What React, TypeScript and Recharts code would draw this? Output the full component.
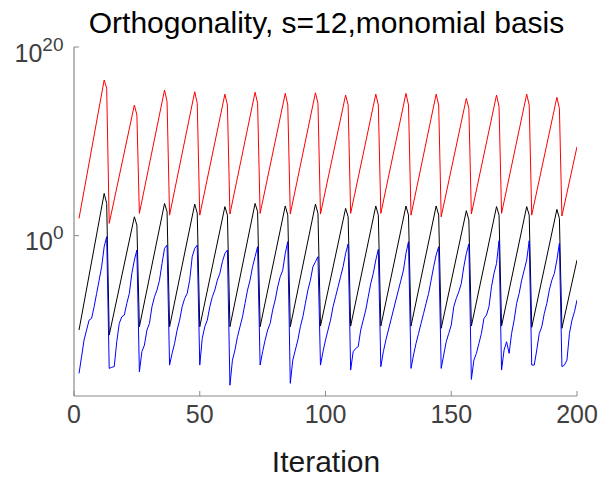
import React from 'react';
import { LineChart, Line, XAxis, YAxis } from 'recharts';

const W = 600;
const H = 477;
const PLOT = { left: 74, top: 47, right: 577, bottom: 396 };

const iterationTicks = [0, 50, 100, 150, 200];
const yTicks = [1, 1e20];
const yDomain: [number, number] = [1e-17, 1e20];

// [iteration, value] vertices
const redPoints: [number, number][] = [
  [2, 68],
  [12, 3.2e16], [13, 4.2e15], [14, 20],
  [24, 7.1e13], [25, 6.2e12], [26, 230],
  [36, 2.8e15], [37, 1.6e14], [38, 150],
  [48, 1.8e15], [49, 1.1e14], [50, 150],
  [60, 1.0e15], [61, 7.1e13], [62, 195],
  [72, 1.6e15], [73, 1.1e14], [74, 230],
  [84, 1.2e15], [85, 7.1e13], [86, 195],
  [96, 1.4e15], [97, 1.1e14], [98, 195],
  [108, 8.1e14], [109, 7.1e13], [110, 230],
  [120, 1.0e15], [121, 7.1e13], [122, 230],
  [132, 1.2e15], [133, 7.1e13], [134, 150],
  [144, 1.0e15], [145, 7.1e13], [146, 100],
  [156, 3.6e14], [157, 3.1e13], [158, 195],
  [168, 8.1e14], [169, 4.7e13], [170, 230],
  [180, 1.0e15], [181, 7.1e13], [182, 150],
  [192, 4.6e14], [193, 3.1e13], [194, 120],
  [200, 2.7e9],
];

const blackPoints: [number, number][] = [
  [2, 9.8e-11],
  [12, 3.0e4], [13, 2.6e3], [14, 2.9e-11],
  [24, 100], [25, 13], [26, 2.2e-10],
  [36, 2.6e3], [37, 350], [38, 2.2e-10],
  [48, 2.2e3], [49, 230], [50, 2.2e-10],
  [60, 1.2e3], [61, 150], [62, 2.2e-10],
  [72, 2.6e3], [73, 350], [74, 2.2e-10],
  [84, 1.4e3], [85, 150], [86, 2.2e-10],
  [96, 2.2e3], [97, 230], [98, 2.6e-10],
  [108, 780], [109, 100], [110, 2.6e-10],
  [120, 1.4e3], [121, 150], [122, 2.6e-10],
  [132, 1.4e3], [133, 150], [134, 2.6e-10],
  [144, 1.4e3], [145, 150], [146, 1.5e-10],
  [156, 440], [157, 45], [158, 2.6e-10],
  [168, 1.2e3], [169, 150], [170, 2.6e-10],
  [180, 1.2e3], [181, 150], [182, 1.9e-10],
  [192, 610], [193, 68], [194, 1.5e-10],
  [200, 2.6e-3],
];

const bluePoints: [number, number][] = [
  [2, 2.5e-15], [3, 1.4e-13], [4, 8.5e-12], [5, 9.8e-11], [6, 1.1e-9], [7, 1.7e-9],
  [8, 2.9e-8], [9, 7.5e-7], [10, 1.9e-5], [11, 5.1e-4], [12, 6.7e-2], [13, 0.78],
  [14, 8.4e-15], [15, 1.1e-14], [16, 1.3e-14], [17, 5.7e-12], [18, 5.0e-10], [19, 2.5e-9],
  [20, 3.8e-9], [21, 6.6e-8], [22, 7.5e-7], [23, 1.0e-4], [24, 2.6e-3], [25, 3.0e-2],
  [26, 3.7e-15], [27, 5.0e-13], [28, 2.5e-12], [29, 9.8e-11], [30, 5.0e-10], [31, 2.9e-8],
  [32, 3.3e-7], [33, 1.7e-6], [34, 1.9e-5], [35, 1.1e-3], [36, 4.5e-2], [37, 0.10],
  [38, 1.9e-14], [39, 3.3e-13], [40, 3.8e-12], [41, 9.8e-11], [42, 1.1e-9], [43, 2.9e-8],
  [44, 2.2e-7], [45, 7.5e-7], [46, 1.9e-5], [47, 5.9e-3], [48, 4.5e-2], [49, 0.10],
  [50, 1.9e-14], [51, 1.3e-11], [52, 2.2e-10], [53, 1.1e-9], [54, 2.9e-8], [55, 3.3e-7],
  [56, 1.7e-6], [57, 1.9e-5], [58, 1.0e-4], [59, 1.7e-3], [60, 1.3e-2], [61, 3.0e-2],
  [62, 1.4e-16], [63, 6.4e-14], [64, 7.4e-13], [65, 1.9e-11], [66, 2.2e-10], [67, 2.5e-9],
  [68, 6.6e-8], [69, 1.7e-6], [70, 1.9e-5], [71, 5.1e-4], [72, 5.9e-3], [73, 6.7e-2],
  [74, 1.9e-14], [75, 5.0e-13], [76, 8.5e-12], [77, 9.8e-11], [78, 5.0e-10], [79, 1.3e-8],
  [80, 1.5e-7], [81, 3.8e-6], [82, 4.4e-5], [83, 2.2e-4], [84, 1.3e-2], [85, 0.23],
  [86, 2.2e-16], [87, 6.4e-14], [88, 7.4e-13], [89, 8.5e-12], [90, 2.2e-10], [91, 2.5e-9],
  [92, 6.6e-8], [93, 1.7e-6], [94, 1.9e-5], [95, 5.1e-4], [96, 1.7e-3], [97, 5.9e-3],
  [98, 1.9e-14], [99, 5.0e-13], [100, 8.5e-12], [101, 9.8e-11], [102, 1.1e-9], [103, 2.9e-8],
  [104, 3.3e-7], [105, 3.8e-6], [106, 4.4e-5], [107, 5.1e-4], [108, 1.3e-2], [109, 0.13],
  [110, 5.6e-15], [111, 5.0e-13], [112, 1.1e-12], [113, 1.7e-12], [114, 9.8e-11], [115, 1.1e-9],
  [116, 1.3e-8], [117, 3.3e-7], [118, 8.7e-6], [119, 1.0e-4], [120, 2.6e-3], [121, 3.5e-2],
  [122, 1.3e-14], [123, 5.0e-13], [124, 8.5e-12], [125, 9.8e-11], [126, 1.1e-9], [127, 1.3e-8],
  [128, 1.5e-7], [129, 1.7e-6], [130, 1.9e-5], [131, 2.2e-4], [132, 1.3e-2], [133, 0.23],
  [134, 8.4e-15], [135, 2.2e-13], [136, 3.8e-12], [137, 4.3e-11], [138, 5.0e-10], [139, 5.7e-9],
  [140, 6.6e-8], [141, 7.5e-7], [142, 1.9e-5], [143, 5.1e-4], [144, 9.0e-3], [145, 6.7e-2],
  [146, 8.4e-15], [147, 2.2e-13], [148, 5.7e-12], [149, 4.3e-11], [150, 3.3e-10], [151, 2.9e-8],
  [152, 2.2e-7], [153, 1.1e-6], [154, 8.7e-6], [155, 5.1e-4], [156, 1.3e-2], [157, 0.13],
  [158, 5.7e-16], [159, 6.4e-14], [160, 3.3e-13], [161, 3.8e-12], [162, 4.3e-11], [163, 1.7e-9],
  [164, 3.8e-9], [165, 2.9e-8], [166, 3.8e-6], [167, 1.0e-4], [168, 1.1e-3], [169, 0.29],
  [170, 5.6e-15], [171, 7.4e-13], [172, 5.7e-12], [173, 3.3e-13], [174, 4.3e-11], [175, 1.1e-9],
  [176, 6.6e-8], [177, 7.5e-7], [178, 1.9e-5], [179, 2.2e-4], [180, 2.6e-3], [181, 0.29],
  [182, 1.9e-14], [183, 1.9e-14], [184, 7.4e-13], [185, 4.3e-11], [186, 2.2e-10], [187, 5.7e-9],
  [188, 6.6e-8], [189, 1.7e-6], [190, 1.9e-5], [191, 1.0e-4], [192, 2.6e-3], [193, 0.15],
  [194, 1.3e-14], [195, 1.9e-14], [196, 6.4e-14], [197, 4.3e-11], [198, 1.1e-9], [199, 8.6e-9],
  [200, 1.5e-7],
];

const toRows = (pts: [number, number][]) => pts.map(([x, y]) => ({ x, y }));
const redData = toRows(redPoints);
const blackData = toRows(blackPoints);
const blueData = toRows(bluePoints);

const FONT = '"Liberation Sans", Arial, Helvetica, sans-serif';
const AXIS_COLOR = '#8a8a8a';
const LABEL_COLOR = '#404040';
const TICK_LEN = 5;

const BottomTick = (props: any) => {
  const { x, payload } = props;
  return (
    <g>
      <line x1={x} x2={x} y1={PLOT.bottom} y2={PLOT.bottom - TICK_LEN} stroke={AXIS_COLOR} strokeWidth={1} />
      <text x={x} y={PLOT.bottom + 27} textAnchor="middle" fontFamily={FONT} fontSize={25} fill={LABEL_COLOR}>
        {payload.value}
      </text>
    </g>
  );
};

const TopTick = (props: any) => {
  const { x } = props;
  return <line x1={x} x2={x} y1={PLOT.top} y2={PLOT.top + TICK_LEN} stroke={AXIS_COLOR} strokeWidth={1} />;
};

const LeftTick = (props: any) => {
  const { y, payload } = props;
  const exp = Math.round(Math.log10(payload.value));
  return (
    <g>
      <line x1={PLOT.left} x2={PLOT.left + TICK_LEN} y1={y} y2={y} stroke={AXIS_COLOR} strokeWidth={1} />
      <text x={63.5} y={y + 14.5} textAnchor="end" fontFamily={FONT} fill={LABEL_COLOR}>
        <tspan fontSize={25}>10</tspan>
        <tspan fontSize={19} dy={-11}>{exp}</tspan>
      </text>
    </g>
  );
};

const RightTick = (props: any) => {
  const { y } = props;
  return <line x1={PLOT.right} x2={PLOT.right - TICK_LEN} y1={y} y2={y} stroke={AXIS_COLOR} strokeWidth={1} />;
};

export default function App() {
  const xAxisH = 30;
  return (
    <div style={{ position: 'absolute', left: 0, top: 0, width: W, height: H, background: '#fff' }}>
      <LineChart
        width={W}
        height={H}
        margin={{ top: PLOT.top, right: W - PLOT.right, bottom: H - PLOT.bottom - xAxisH, left: 0 }}
      >
        <XAxis
          xAxisId="bottom"
          type="number"
          dataKey="x"
          domain={[0, 200]}
          ticks={iterationTicks}
          height={xAxisH}
          axisLine={{ stroke: AXIS_COLOR, strokeWidth: 1.2 }}
          tickLine={false}
          tick={BottomTick}
          allowDataOverflow
        />
        <XAxis
          xAxisId="top"
          orientation="top"
          type="number"
          dataKey="x"
          domain={[0, 200]}
          ticks={iterationTicks}
          height={0}
          axisLine={{ stroke: AXIS_COLOR, strokeWidth: 1.2 }}
          tickLine={false}
          tick={TopTick}
          allowDataOverflow
        />
        <YAxis
          yAxisId="left"
          type="number"
          scale="log"
          domain={yDomain}
          ticks={yTicks}
          width={PLOT.left}
          axisLine={{ stroke: AXIS_COLOR, strokeWidth: 1.2 }}
          tickLine={false}
          tick={LeftTick}
          allowDataOverflow
        />
        <YAxis
          yAxisId="right"
          orientation="right"
          type="number"
          scale="log"
          domain={yDomain}
          ticks={yTicks}
          width={0}
          axisLine={{ stroke: AXIS_COLOR, strokeWidth: 1.2 }}
          tickLine={false}
          tick={RightTick}
          allowDataOverflow
        />
        <Line xAxisId="bottom" yAxisId="left" data={redData} dataKey="y" type="linear" stroke="#ff0000" strokeWidth={1} dot={false} isAnimationActive={false} />
        <Line xAxisId="bottom" yAxisId="left" data={blackData} dataKey="y" type="linear" stroke="#000000" strokeWidth={1} dot={false} isAnimationActive={false} />
        <Line xAxisId="bottom" yAxisId="left" data={blueData} dataKey="y" type="linear" stroke="#0000ff" strokeWidth={1} dot={false} isAnimationActive={false} />
      </LineChart>
      <svg width={W} height={H} style={{ position: 'absolute', left: 0, top: 0, pointerEvents: 'none' }}>
        <text x={326.5} y={33} textAnchor="middle" fontFamily={FONT} fontSize={30} fill="#000">
          Orthogonality, s=12,monomial basis
        </text>
        <text x={326} y={472} textAnchor="middle" fontFamily={FONT} fontSize={30} fill="#1a1a1a">
          Iteration
        </text>
      </svg>
    </div>
  );
}
